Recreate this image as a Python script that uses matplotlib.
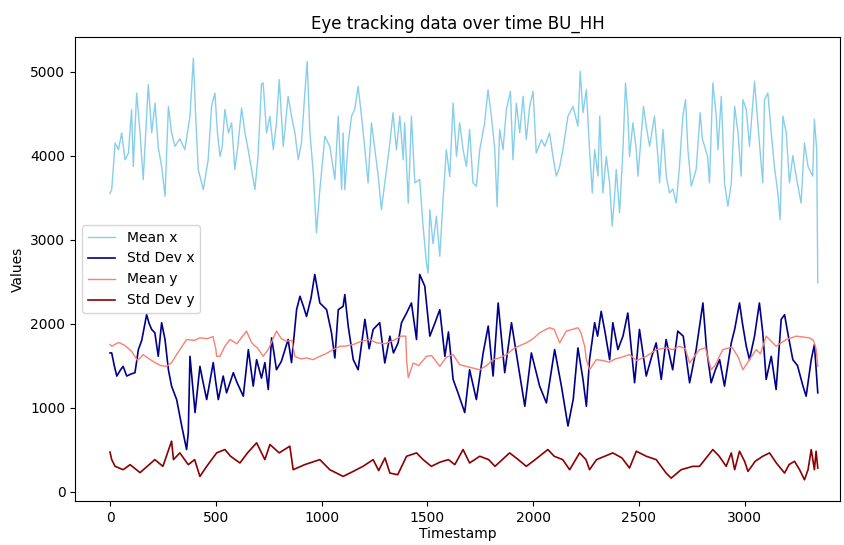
import matplotlib
matplotlib.use("Agg")
import matplotlib.pyplot as plt

# ---- data ----
t_mean_x = [0, 8, 24, 40, 55, 71, 87, 102, 110, 126, 142, 157, 181, 197, 213, 228, 244, 260, 276, 291, 307, 330, 354, 378, 394, 405, 417, 441, 464, 480, 496, 508, 520, 530, 543, 560, 575, 590, 606, 622, 638, 653, 669, 685, 700, 716, 724, 740, 756, 772, 787, 800, 819, 842, 858, 874, 890, 905, 921, 932, 945, 961, 976, 992, 1016, 1040, 1063, 1079, 1095, 1102, 1110, 1126, 1142, 1157, 1173, 1189, 1205, 1220, 1236, 1252, 1268, 1283, 1299, 1323, 1338, 1354, 1370, 1386, 1393, 1410, 1425, 1441, 1464, 1480, 1496, 1504, 1512, 1527, 1543, 1559, 1575, 1590, 1606, 1622, 1638, 1653, 1669, 1685, 1700, 1716, 1732, 1748, 1771, 1787, 1803, 1819, 1830, 1842, 1858, 1874, 1893, 1905, 1921, 1937, 1953, 1968, 1984, 2000, 2015, 2040, 2055, 2078, 2094, 2110, 2126, 2141, 2165, 2189, 2212, 2223, 2236, 2252, 2267, 2280, 2291, 2307, 2315, 2330, 2346, 2362, 2374, 2385, 2393, 2409, 2425, 2437, 2448, 2456, 2472, 2488, 2496, 2512, 2522, 2535, 2551, 2574, 2590, 2598, 2614, 2630, 2645, 2661, 2677, 2692, 2708, 2721, 2732, 2748, 2771, 2790, 2800, 2811, 2825, 2834, 2850, 2866, 2874, 2890, 2905, 2921, 2937, 2953, 2969, 2984, 2992, 3008, 3023, 3047, 3060, 3070, 3086, 3094, 3110, 3126, 3141, 3157, 3168, 3181, 3197, 3212, 3228, 3244, 3267, 3283, 3300, 3322, 3330, 3341, 3346]
mean_x = [3550, 3595, 4150, 4070, 4270, 3950, 4030, 4550, 3870, 4745, 4270, 3715, 4845, 4270, 4625, 4100, 3870, 3515, 4585, 4270, 4110, 4200, 4070, 4470, 5160, 4470, 3835, 3595, 3950, 4585, 4745, 4270, 3990, 4100, 4550, 4270, 4390, 3835, 4150, 4565, 4270, 4070, 3835, 3595, 4000, 4855, 4865, 4270, 4470, 4070, 4390, 4905, 4110, 4705, 4470, 4270, 3950, 4150, 4745, 5120, 4270, 3795, 3080, 3595, 4230, 4100, 3715, 4470, 3595, 4270, 3595, 4150, 4470, 4550, 4825, 4470, 4070, 3675, 4390, 4070, 3755, 3355, 3675, 4150, 4510, 4070, 4470, 3950, 4390, 3435, 4470, 3675, 3715, 3160, 2720, 2600, 3355, 2950, 3280, 2800, 3500, 4070, 3750, 4625, 3990, 4390, 4070, 3870, 4310, 3675, 3635, 4070, 4390, 4785, 4470, 4070, 3395, 4310, 4070, 4550, 4765, 3950, 4625, 4270, 4705, 4190, 4585, 4765, 4030, 4190, 4110, 4270, 3990, 3755, 3870, 4070, 4470, 4585, 4350, 5005, 4510, 4785, 4070, 3555, 4070, 3755, 4470, 3555, 3990, 3670, 3160, 3500, 3835, 3320, 4070, 4865, 4500, 3990, 4390, 4070, 3755, 4270, 4585, 4350, 4110, 4470, 3990, 3675, 4310, 3755, 3555, 3600, 3435, 3870, 4470, 4665, 4070, 3635, 3835, 4510, 4200, 4110, 3990, 3675, 4865, 4470, 4070, 4705, 3675, 3395, 3675, 4585, 4270, 3755, 4665, 4550, 4110, 4885, 4470, 4150, 3675, 4665, 4745, 4270, 3870, 3555, 3240, 4470, 4270, 3675, 4000, 3750, 3435, 4150, 3870, 3755, 4430, 4070, 2485]

t_std_x = [0, 8, 20, 32, 50, 62, 79, 100, 118, 134, 150, 173, 185, 197, 212, 228, 244, 260, 276, 291, 315, 339, 362, 370, 378, 402, 425, 440, 457, 488, 500, 512, 535, 551, 583, 600, 630, 654, 677, 693, 716, 732, 748, 764, 787, 810, 842, 858, 882, 898, 915, 929, 950, 968, 992, 1024, 1047, 1063, 1079, 1102, 1110, 1126, 1150, 1173, 1205, 1225, 1244, 1275, 1299, 1323, 1340, 1362, 1378, 1402, 1425, 1449, 1464, 1488, 1512, 1535, 1559, 1583, 1600, 1622, 1645, 1677, 1700, 1732, 1764, 1788, 1811, 1835, 1866, 1898, 1930, 1961, 1992, 2031, 2063, 2102, 2134, 2165, 2190, 2212, 2236, 2252, 2267, 2291, 2305, 2322, 2340, 2362, 2377, 2401, 2425, 2448, 2480, 2503, 2535, 2560, 2582, 2606, 2629, 2660, 2684, 2710, 2740, 2771, 2803, 2820, 2842, 2862, 2882, 2905, 2937, 2953, 2976, 2990, 3008, 3023, 3047, 3070, 3086, 3102, 3126, 3149, 3173, 3189, 3204, 3228, 3250, 3276, 3291, 3315, 3330, 3346]
std_x = [1650, 1650, 1500, 1375, 1450, 1490, 1375, 1400, 1415, 1690, 1800, 2105, 2000, 1930, 1890, 1610, 2010, 1810, 1450, 1255, 1095, 780, 500, 700, 1610, 940, 1490, 1300, 1095, 1535, 1300, 1095, 1375, 1175, 1415, 1300, 1135, 1690, 1255, 1570, 1350, 1535, 1215, 1830, 1450, 1550, 1810, 1535, 2165, 2325, 2200, 2085, 2300, 2585, 2245, 2165, 1890, 1590, 2165, 2205, 2345, 1970, 1570, 1450, 2050, 1700, 1930, 2010, 1530, 1850, 1650, 1770, 2010, 2125, 2245, 1810, 2585, 2445, 1850, 2000, 2165, 1610, 1900, 1335, 1175, 940, 1450, 1095, 1650, 1970, 1375, 2245, 1415, 2010, 1500, 1015, 1650, 1255, 1055, 1690, 1255, 780, 1100, 1710, 1335, 1015, 1570, 2010, 1850, 2145, 1900, 1570, 2010, 1690, 1850, 2125, 1295, 1930, 1375, 1600, 1770, 1335, 1810, 1450, 1910, 1850, 1295, 1690, 2245, 1700, 1295, 1450, 1570, 1255, 1770, 1930, 2245, 2000, 1730, 1570, 1850, 2245, 1890, 1335, 1610, 1215, 2050, 2105, 1890, 1570, 1500, 1255, 1135, 1570, 1750, 1175]

t_mean_y = [0, 8, 40, 70, 102, 130, 157, 185, 212, 240, 268, 291, 320, 362, 400, 425, 460, 487, 500, 504, 520, 543, 567, 600, 645, 670, 700, 724, 750, 787, 810, 835, 860, 874, 900, 929, 960, 992, 1020, 1055, 1087, 1110, 1150, 1190, 1228, 1260, 1300, 1340, 1378, 1398, 1402, 1410, 1433, 1460, 1496, 1520, 1559, 1590, 1622, 1653, 1700, 1748, 1780, 1811, 1840, 1874, 1913, 1940, 1968, 2000, 2031, 2060, 2078, 2100, 2126, 2157, 2185, 2212, 2225, 2244, 2252, 2267, 2299, 2330, 2360, 2390, 2420, 2456, 2490, 2535, 2560, 2582, 2629, 2660, 2692, 2720, 2740, 2760, 2787, 2815, 2842, 2860, 2897, 2940, 2970, 2992, 3020, 3055, 3075, 3102, 3149, 3197, 3244, 3307, 3325, 3338, 3346]
mean_y = [1750, 1730, 1775, 1740, 1670, 1560, 1630, 1580, 1535, 1500, 1490, 1535, 1650, 1810, 1800, 1830, 1820, 1845, 1700, 1610, 1610, 1730, 1810, 1760, 1910, 1770, 1700, 1610, 1700, 1910, 1820, 1790, 1800, 1610, 1580, 1590, 1570, 1610, 1640, 1690, 1730, 1730, 1750, 1790, 1810, 1770, 1760, 1800, 1850, 1850, 1570, 1355, 1530, 1500, 1610, 1620, 1490, 1600, 1630, 1510, 1480, 1450, 1500, 1570, 1590, 1630, 1710, 1740, 1770, 1820, 1890, 1930, 1950, 1930, 1770, 1910, 1930, 1950, 1900, 1730, 1570, 1450, 1570, 1560, 1540, 1580, 1600, 1630, 1560, 1610, 1650, 1690, 1710, 1690, 1730, 1700, 1530, 1600, 1690, 1710, 1450, 1500, 1690, 1720, 1600, 1450, 1560, 1690, 1640, 1850, 1730, 1810, 1850, 1830, 1800, 1700, 1490]

t_std_y = [0, 8, 24, 62, 95, 142, 212, 250, 291, 300, 330, 370, 400, 425, 457, 504, 543, 570, 614, 650, 693, 732, 756, 800, 850, 866, 920, 992, 1039, 1102, 1150, 1196, 1244, 1270, 1300, 1323, 1360, 1402, 1449, 1480, 1519, 1560, 1600, 1630, 1669, 1700, 1748, 1790, 1820, 1889, 1930, 1968, 2010, 2070, 2100, 2140, 2173, 2220, 2250, 2267, 2300, 2377, 2420, 2456, 2488, 2535, 2582, 2629, 2653, 2700, 2755, 2787, 2850, 2880, 2913, 2937, 2953, 2976, 3000, 3016, 3050, 3086, 3118, 3150, 3189, 3210, 3236, 3260, 3283, 3300, 3315, 3330, 3338, 3346]
std_y = [470, 380, 300, 260, 320, 225, 380, 300, 600, 380, 460, 320, 380, 180, 300, 460, 500, 420, 340, 460, 580, 380, 560, 460, 540, 260, 320, 380, 260, 180, 240, 300, 380, 250, 400, 220, 200, 420, 460, 380, 300, 350, 380, 320, 500, 340, 420, 380, 300, 460, 380, 300, 380, 500, 420, 380, 260, 460, 380, 260, 380, 460, 400, 280, 480, 420, 380, 220, 160, 260, 300, 300, 500, 420, 300, 460, 260, 480, 360, 240, 360, 420, 460, 340, 220, 320, 360, 260, 140, 260, 500, 260, 480, 280]

fig = plt.figure(figsize=(8.44, 5.45), dpi=100)
ax = fig.add_axes([0.089, 0.081, 0.906, 0.851])
ax.plot(t_mean_x, mean_x, color="skyblue", lw=1.0, label="Mean x")
ax.plot(t_std_x, std_x, color="darkblue", lw=1.2, label="Std Dev x")
ax.plot(t_mean_y, mean_y, color="salmon", lw=1.0, label="Mean y")
ax.plot(t_std_y, std_y, color="darkred", lw=1.2, label="Std Dev y")
ax.set_xlim(-165, 3450)
ax.set_title("Eye tracking data over time BU_HH")
ax.set_xlabel("Timestamp", labelpad=2)
ax.set_ylabel("Values")
ax.legend(loc="center left")
fig.savefig("out.png", dpi=100)
